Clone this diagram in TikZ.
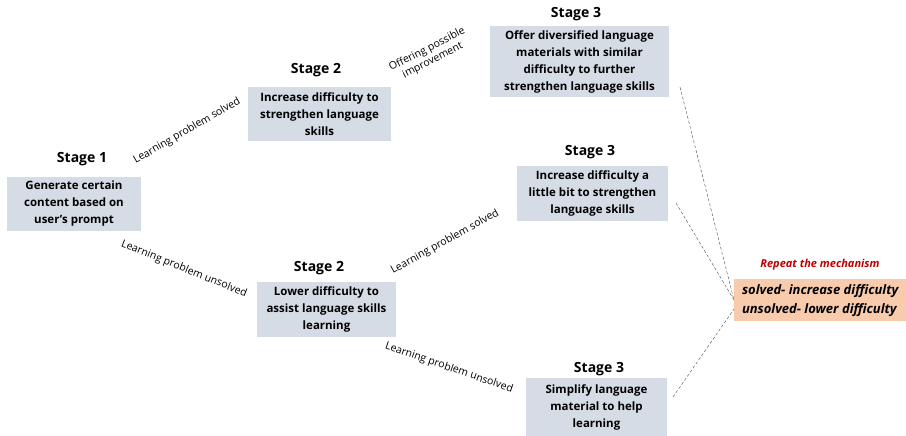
\documentclass[tikz,border=0pt]{standalone}
\usepackage{fontspec}
\setmainfont{Open Sans}
\usetikzlibrary{positioning}

\definecolor{boxgrey}{HTML}{D6DCE5}
\definecolor{boxorange}{HTML}{F8CBAD}
\definecolor{redtext}{HTML}{C00000}

\tikzset{stagebox/.style={fill=boxgrey, align=center, inner sep=0pt, font=\fontsize{11.5}{17}\selectfont\bfseries},
         stagetitle/.style={font=\fontsize{14}{17}\selectfont\bfseries},
         branch/.style={font=\fontsize{10.5}{12.5}\selectfont, align=center},
         link/.style={densely dashed, gray!60!black, thin}}

\begin{document}
\begin{tikzpicture}[x=1pt, y=-1pt]
            \useasboundingbox (0,0) rectangle (906,436);

            % Les boites
            \node[stagebox, minimum width=134, minimum height=54] (s1) at (74,204) {Generate certain\\content based on\\user's prompt};
            \node[stagebox, minimum width=143, minimum height=54] (s2a) at (319.5,114) {Increase difficulty to\\strengthen language\\skills};
            \node[stagebox, minimum width=139, minimum height=55] (s2b) at (326.5,309.5) {Lower difficulty to\\assist language skills\\learning};
            \node[stagebox, minimum width=179, minimum height=71] (s3a) at (579.5,61.5) {Offer diversified language\\materials with similar\\difficulty to further\\strengthen language skills};
            \node[stagebox, minimum width=151, minimum height=55] (s3b) at (592.5,193.5) {Increase difficulty a\\little bit to strengthen\\language skills};
            \node[stagebox, minimum width=141, minimum height=58] (s3c) at (596.5,407) {Simplify language\\material to help\\learning};

            % Les titres
            \node[stagetitle] (t1) at (82,159) {Stage 1};
            \node[stagetitle] (t2a) at (316,70) {Stage 2};
            \node[stagetitle] (t2b) at (319,268) {Stage 2};
            \node[stagetitle] (t3a) at (576,14) {Stage 3};
            \node[stagetitle] (t3b) at (590,152) {Stage 3};
            \node[stagetitle] (t3c) at (599,369) {Stage 3};

            % Les branches
            \node[branch, rotate=30] (b1) at (187,131) {Learning problem solved};
            \node[branch, rotate=-22] (b2) at (184,269) {Learning problem unsolved};
            \node[branch, rotate=27] (b3) at (430,55) {Offering possible\\improvement};
            \node[branch, rotate=29] (b4) at (445,242) {Learning problem solved};
            \node[branch, rotate=-19] (b5) at (449,368) {Learning problem unsolved};

            % Le mecanisme
            \node[fill=boxorange, minimum width=172, minimum height=42, inner sep=0pt, anchor=north west,
                  align=left, font=\fontsize{13}{19}\selectfont\itshape\bfseries] (rep) at (734,279)
                  {solved- increase difficulty\\unsolved- lower difficulty};
            \node[font=\fontsize{11}{12}\selectfont\itshape\bfseries, text=redtext] (rt) at (820,265) {Repeat the mechanism};

            % Les liens
            \coordinate (c1) at (680,87);
            \coordinate (c2) at (676,203);
            \coordinate (c3) at (673,397);
            \coordinate (r1) at (734,300);
            \coordinate (r2) at (734,309);
            \draw[link] (c1) -- (r1);
            \draw[link] (c2) -- (r1);
            \draw[link] (c3) -- (r2);
        \end{tikzpicture}
\end{document}
